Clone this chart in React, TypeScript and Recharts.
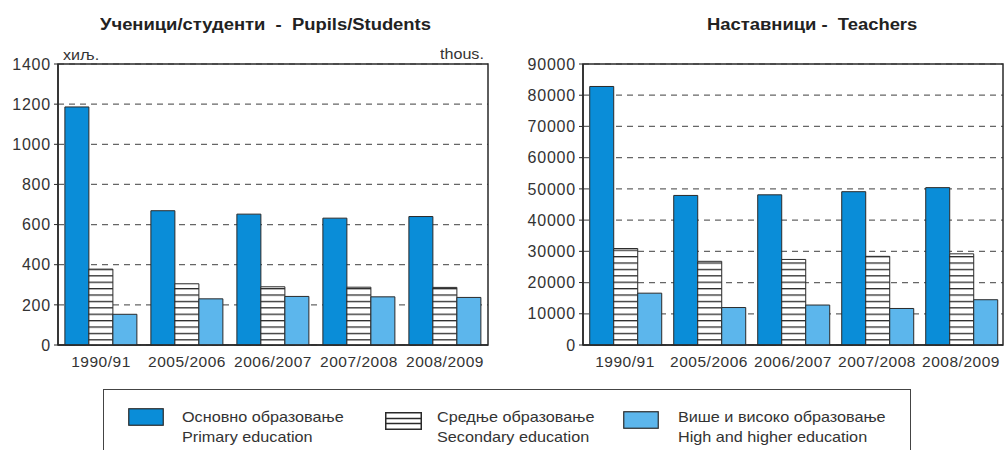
import { BarChart, Bar, XAxis, YAxis, CartesianGrid, ReferenceArea } from 'recharts';

const years = ['1990/91', '2005/2006', '2006/2007', '2007/2008', '2008/2009'];

// Pupils/Students, thousands
const pupilsPrimary = [1186, 669, 652, 632, 640];
const pupilsSecondary = [378, 305, 290, 288, 287];
const pupilsHigher = [153, 230, 242, 240, 237];
const pupilsTicks = [0, 200, 400, 600, 800, 1000, 1200, 1400];

// Teachers
const teachersPrimary = [82800, 47900, 48100, 49100, 50400];
const teachersSecondary = [30900, 26800, 27400, 28400, 29200];
const teachersHigher = [16600, 12000, 12800, 11700, 14500];
const teachersTicks = [0, 10000, 20000, 30000, 40000, 50000, 60000, 70000, 80000, 90000];

const legendSr = ['Основно образовање', 'Средње образовање', 'Више и високо образовање'];
const legendEn = ['Primary education', 'Secondary education', 'High and higher education'];

const PRIMARY = '#0a8dd8';
const HIGHER = '#5cb6ec';
const DARK = '#2a2a2a';
const TEXT = '#333';
const FONT = '"Liberation Sans", Arial, sans-serif';

const pupilsData = years.map((year, i) => ({
  year,
  primary: pupilsPrimary[i],
  secondary: pupilsSecondary[i],
  higher: pupilsHigher[i],
}));

const teachersData = years.map((year, i) => ({
  year,
  primary: teachersPrimary[i],
  secondary: teachersSecondary[i],
  higher: teachersHigher[i],
}));

// the source image is a bit wide, so the html text gets stretched to match
const stretch = (text: string, sx = 1.15) => (
  <span style={{ display: 'inline-block', transform: `scaleX(${sx})`, transformOrigin: 'left center', whiteSpace: 'pre' }}>
    {text}
  </span>
);

const ChartBlock = ({
  data,
  ticks,
  id,
  width,
  yWidth,
  right,
}: {
  data: any[];
  ticks: number[];
  id: string;
  width: number;
  yWidth: number;
  right: number;
}) => {
  const max = ticks[ticks.length - 1];
  return (
    <BarChart
      width={width}
      height={380}
      data={data}
      margin={{ top: 64, right, left: 0, bottom: 0 }}
      barGap={0}
      barCategoryGap="8%"
    >
      <defs>
        <pattern id={id} patternUnits="userSpaceOnUse" width="8" height="6.4">
          <rect x="0" y="0" width="8" height="6.4" fill="#fff" />
          <rect x="0" y="0" width="8" height="1.3" fill={DARK} />
        </pattern>
      </defs>
      <CartesianGrid vertical={false} stroke="#666" strokeDasharray="6 5" strokeWidth={1.2} />
      <XAxis
        dataKey="year"
        height={35}
        tickLine={false}
        tickSize={0}
        tickMargin={11}
        axisLine={{ stroke: DARK, strokeWidth: 1.5 }}
        tick={{ fontSize: 15.5, fill: TEXT, fontFamily: FONT, letterSpacing: 0.5 }}
      />
      <YAxis
        width={yWidth}
        domain={[0, max]}
        ticks={ticks}
        interval={0}
        tickSize={4}
        tickMargin={3}
        tickLine={{ stroke: DARK }}
        axisLine={{ stroke: DARK, strokeWidth: 1.5 }}
        tick={{ fontSize: 16, fill: TEXT, fontFamily: FONT, letterSpacing: 0.8 }}
      />
      <Bar dataKey="primary" fill={PRIMARY} stroke={DARK} strokeWidth={1} isAnimationActive={false} />
      <Bar dataKey="secondary" fill={`url(#${id})`} stroke={DARK} strokeWidth={1} isAnimationActive={false} />
      <Bar dataKey="higher" fill={HIGHER} stroke={DARK} strokeWidth={1} isAnimationActive={false} />
      <ReferenceArea y1={0} y2={max} fill="none" fillOpacity={0} stroke={DARK} strokeWidth={1.5} ifOverflow="visible" />
    </BarChart>
  );
};

const Swatch = ({ kind }: { kind: number }) => {
  if (kind === 1) {
    return (
      <svg width={37} height={18}>
        <rect x={0.75} y={0.75} width={35.5} height={16.5} fill="#fff" stroke={DARK} strokeWidth={1.5} />
        <line x1={0} x2={37} y1={6.5} y2={6.5} stroke={DARK} strokeWidth={1.5} />
        <line x1={0} x2={37} y1={11.5} y2={11.5} stroke={DARK} strokeWidth={1.5} />
      </svg>
    );
  }
  return (
    <svg width={36} height={18}>
      <rect x={0.75} y={0.75} width={34.5} height={16.5} fill={kind === 0 ? PRIMARY : HIGHER} stroke={DARK} strokeWidth={1.2} />
    </svg>
  );
};

const swatchX = [128, 385, 623];
const swatchY = [408, 412, 411];
const textX = [182, 437, 678];

export default function App() {
  return (
    <div
      style={{
        position: 'absolute',
        left: 0,
        top: 0,
        width: 1005,
        height: 450,
        background: '#fff',
        fontFamily: FONT,
        color: TEXT,
        overflow: 'hidden',
      }}
    >
      <div style={{ position: 'absolute', left: 0, top: 0 }}>
        <ChartBlock data={pupilsData} ticks={pupilsTicks} id="hatchL" width={500} yWidth={58} right={12} />
      </div>
      <div style={{ position: 'absolute', left: 500, top: 0 }}>
        <ChartBlock data={teachersData} ticks={teachersTicks} id="hatchR" width={505} yWidth={83} right={2} />
      </div>

      <div style={{ position: 'absolute', left: 100, top: 14, fontSize: 16, fontWeight: 'bold', lineHeight: '22px', color: '#222' }}>
        {stretch('Ученици/студенти  -  Pupils/Students')}
      </div>
      <div style={{ position: 'absolute', left: 707, top: 14, fontSize: 16, fontWeight: 'bold', lineHeight: '22px', color: '#222' }}>
        {stretch('Наставници -  Teachers')}
      </div>

      <div style={{ position: 'absolute', left: 63, top: 45, fontSize: 14, lineHeight: '20px' }}>{stretch('хиљ.')}</div>
      <div style={{ position: 'absolute', left: 440, top: 44, fontSize: 14, lineHeight: '20px' }}>{stretch('thous.')}</div>

      <div
        style={{
          position: 'absolute',
          left: 103,
          top: 389,
          width: 808,
          height: 80,
          border: '1.5px solid #444',
          boxSizing: 'border-box',
        }}
      />
      {legendSr.map((sr, i) => (
        <div key={sr}>
          <div style={{ position: 'absolute', left: swatchX[i], top: swatchY[i], lineHeight: 0 }}>
            <Swatch kind={i} />
          </div>
          <div style={{ position: 'absolute', left: textX[i], top: 407, fontSize: 15, lineHeight: '20px' }}>
            <div>{stretch(sr, 1.08)}</div>
            <div>{stretch(legendEn[i], 1.08)}</div>
          </div>
        </div>
      ))}
    </div>
  );
}
